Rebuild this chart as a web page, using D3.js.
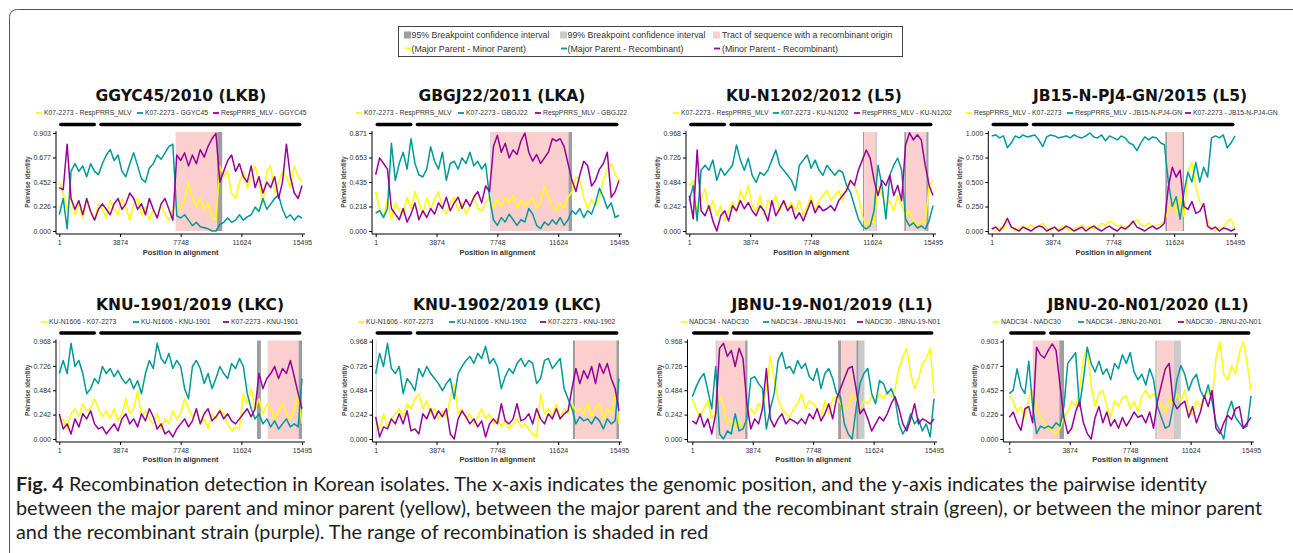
<!DOCTYPE html>
<html><head><meta charset="utf-8">
<script src="https://cdn.jsdelivr.net/npm/d3@7"></script>
<style>body{margin:0;background:#fff} svg{display:block}</style>
</head><body>
<svg id="c" width="1293" height="553"></svg>
<script>
// ---------- DATA ----------
const positions = [1,250,500,750,1000,1250,1500,1750,2000,2250,2500,2750,3000,3250,3500,3750,4000,4250,4500,4750,5000,5250,5500,5750,6000,6250,6500,6750,7000,7250,7500,7750,8000,8250,8500,8750,9000,9250,9500,9750,10000,10250,10500,10750,11000,11250,11500,11750,12000,12250,12500,12750,13000,13250,13500,13750,14000,14250,14500,14750,15000,15250,15495];

const p1Yellow = [0.45,0.35,0.2,0.3,0.15,0.25,0.12,0.28,0.18,0.1,0.25,0.2,0.12,0.28,0.2,0.15,0.3,0.22,0.1,0.25,0.3,0.15,0.22,0.1,0.2,0.12,0.25,0.15,0.1,0.2,0.25,0.2,0.3,0.45,0.3,0.22,0.3,0.2,0.25,0.12,0.1,0.6,0.5,0.55,0.35,0.3,0.45,0.55,0.4,0.5,0.6,0.45,0.25,0.55,0.6,0.35,0.45,0.55,0.5,0.4,0.6,0.5,0.45];
const p1Teal = [0.15,0.3,0.02,0.55,0.62,0.55,0.6,0.5,0.62,0.55,0.52,0.62,0.7,0.75,0.65,0.7,0.55,0.5,0.62,0.72,0.6,0.48,0.45,0.58,0.62,0.7,0.66,0.72,0.78,0.8,0.14,0.12,0.15,0.1,0.05,0.08,0.04,0.03,0.02,0.0,0.0,0.06,0.08,0.12,0.08,0.1,0.15,0.1,0.13,0.15,0.22,0.18,0.3,0.2,0.25,0.3,0.33,0.2,0.12,0.15,0.1,0.14,0.12];
const p1Purple = [0.4,0.38,0.8,0.3,0.2,0.28,0.15,0.3,0.18,0.1,0.2,0.25,0.2,0.15,0.25,0.3,0.2,0.25,0.35,0.3,0.2,0.25,0.15,0.3,0.2,0.12,0.25,0.3,0.2,0.1,0.7,0.65,0.72,0.6,0.7,0.62,0.75,0.68,0.78,0.85,0.9,0.45,0.55,0.65,0.7,0.55,0.62,0.5,0.45,0.6,0.4,0.5,0.35,0.45,0.4,0.5,0.3,0.45,0.8,0.5,0.35,0.3,0.42];

const p2Yellow = [0.35,0.2,0.12,0.28,0.1,0.25,0.18,0.15,0.3,0.2,0.35,0.25,0.15,0.3,0.2,0.28,0.35,0.2,0.15,0.25,0.3,0.18,0.25,0.15,0.22,0.3,0.2,0.18,0.25,0.3,0.2,0.28,0.22,0.3,0.25,0.32,0.2,0.28,0.22,0.25,0.3,0.2,0.25,0.4,0.3,0.22,0.18,0.25,0.2,0.3,0.35,0.48,0.45,0.3,0.2,0.28,0.22,0.3,0.45,0.55,0.6,0.5,0.45];
const p2Teal = [0.16,0.18,0.12,0.2,0.78,0.45,0.6,0.7,0.55,0.82,0.6,0.5,0.48,0.55,0.75,0.62,0.55,0.7,0.45,0.6,0.62,0.55,0.65,0.6,0.7,0.58,0.62,0.55,0.6,0.3,0.1,0.05,0.12,0.08,0.15,0.1,0.05,0.1,0.08,0.2,0.15,0.05,0.02,0.08,0.05,0.1,0.06,0.12,0.05,0.1,0.18,0.15,0.2,0.12,0.18,0.15,0.25,0.38,0.3,0.2,0.25,0.12,0.14];
const p2Purple = [0.5,0.65,0.6,0.55,0.2,0.15,0.1,0.2,0.08,0.15,0.25,0.1,0.18,0.12,0.2,0.15,0.25,0.2,0.3,0.18,0.25,0.3,0.2,0.28,0.22,0.3,0.35,0.25,0.4,0.35,0.75,0.85,0.7,0.78,0.65,0.72,0.68,0.8,0.87,0.7,0.62,0.68,0.6,0.65,0.7,0.82,0.8,0.82,0.75,0.6,0.45,0.35,0.5,0.62,0.58,0.4,0.45,0.55,0.6,0.7,0.3,0.35,0.45];

const p3Yellow = [0.45,0.5,0.15,0.3,0.42,0.2,0.3,0.15,0.25,0.1,0.2,0.28,0.18,0.4,0.3,0.45,0.25,0.2,0.35,0.15,0.3,0.25,0.35,0.2,0.3,0.22,0.28,0.2,0.3,0.15,0.25,0.35,0.2,0.3,0.35,0.4,0.3,0.35,0.4,0.3,0.45,0.5,0.45,0.35,0.15,0.05,0.1,0.08,0.45,0.35,0.25,0.3,0.2,0.35,0.25,0.15,0.2,0.08,0.05,0.1,0.08,0.45,0.5];
const p3Teal = [0.3,0.45,0.1,0.6,0.65,0.6,0.7,0.5,0.62,0.55,0.6,0.65,0.85,0.7,0.6,0.72,0.55,0.48,0.58,0.55,0.6,0.7,0.8,0.65,0.6,0.55,0.5,0.4,0.65,0.7,0.75,0.62,0.7,0.6,0.55,0.65,0.6,0.55,0.6,0.58,0.45,0.38,0.25,0.12,0.05,0.02,0.05,0.2,0.65,0.45,0.12,0.55,0.65,0.72,0.6,0.12,0.05,0.08,0.03,0.05,0.02,0.1,0.25];
const p3Purple = [0.35,0.12,0.8,0.2,0.15,0.25,0.1,0.0,0.15,0.2,0.1,0.25,0.2,0.3,0.22,0.28,0.2,0.15,0.25,0.2,0.1,0.3,0.15,0.22,0.3,0.2,0.25,0.12,0.18,0.1,0.2,0.3,0.18,0.25,0.2,0.22,0.25,0.2,0.3,0.35,0.4,0.5,0.45,0.6,0.7,0.8,0.72,0.5,0.35,0.5,0.45,0.55,0.35,0.45,0.3,0.85,0.97,0.9,0.95,0.9,0.65,0.45,0.35];

const p4Yellow = [0.03,0.0,0.04,0.02,0.1,0.05,0.0,0.03,0.05,0.02,0.06,0.03,0.05,0.08,0.03,0.0,0.04,0.02,0.05,0.03,0.0,0.02,0.04,0.06,0.03,0.05,0.02,0.04,0.08,0.06,0.1,0.08,0.05,0.06,0.04,0.05,0.08,0.12,0.06,0.05,0.08,0.05,0.06,0.07,0.1,0.22,0.3,0.18,0.35,0.15,0.6,0.7,0.45,0.3,0.25,0.1,0.03,0.0,0.04,0.02,0.1,0.12,0.02];
const p4Teal = [0.97,0.98,0.95,0.97,0.85,0.9,0.97,0.95,0.98,0.96,0.97,0.98,0.93,0.86,0.96,0.98,0.97,0.95,0.96,0.97,0.95,0.98,0.96,0.95,0.97,1.0,0.96,0.95,0.98,0.92,0.97,0.95,0.93,0.97,0.95,0.9,0.88,0.82,0.9,0.96,0.93,0.96,0.95,0.9,0.88,0.5,0.25,0.35,0.12,0.4,0.6,0.5,0.7,0.5,0.65,0.55,0.95,0.97,0.95,0.98,0.85,0.9,0.97];
const p4Purple = [0.02,0.04,0.0,0.05,0.13,0.04,0.02,0.0,0.04,0.02,0.0,0.03,0.05,0.04,0.0,0.02,0.04,0.0,0.02,0.05,0.03,0.0,0.02,0.04,0.0,0.03,0.05,0.02,0.0,0.03,0.05,0.02,0.0,0.04,0.02,0.05,0.1,0.04,0.02,0.0,0.03,0.05,0.02,0.04,0.08,0.45,0.65,0.55,0.62,0.25,0.22,0.3,0.18,0.2,0.28,0.05,0.02,0.04,0.0,0.03,0.02,0.0,0.02];

const p5Yellow = [0.15,0.2,0.1,0.25,0.3,0.22,0.35,0.28,0.3,0.4,0.3,0.22,0.28,0.2,0.3,0.18,0.25,0.4,0.25,0.3,0.48,0.22,0.28,0.2,0.15,0.25,0.1,0.2,0.15,0.28,0.2,0.25,0.4,0.3,0.22,0.28,0.15,0.2,0.1,0.25,0.2,0.3,0.25,0.15,0.08,0.12,0.1,0.45,0.35,0.5,0.3,0.4,0.25,0.35,0.3,0.2,0.28,0.35,0.25,0.2,0.3,0.45,0.15];
const p5Teal = [0.65,0.78,0.65,0.95,0.72,0.78,0.65,0.45,0.5,0.6,0.55,0.72,0.65,0.7,0.62,0.68,0.6,0.55,0.6,0.5,0.58,0.45,0.65,0.78,0.7,0.95,0.8,0.75,0.85,0.7,0.78,0.72,0.5,0.4,0.72,0.78,0.7,0.55,0.65,0.5,0.6,0.72,0.65,0.6,0.75,0.7,0.8,0.72,0.45,0.3,0.2,0.25,0.15,0.2,0.12,0.18,0.1,0.15,0.2,0.12,0.15,0.12,0.6];
const p5Purple = [0.25,0.1,0.15,0.05,0.2,0.12,0.25,0.2,0.28,0.15,0.1,0.12,0.05,0.1,0.15,0.08,0.2,0.25,0.15,0.2,0.12,0.25,0.18,0.3,0.22,0.1,0.15,0.05,0.08,0.02,0.1,0.15,0.2,0.12,0.18,0.3,0.15,0.25,0.3,0.18,0.22,0.28,0.2,0.25,0.18,0.15,0.2,0.25,0.3,0.22,0.3,0.65,0.5,0.6,0.65,0.72,0.6,0.7,0.65,0.78,0.62,0.45,0.3];

const p6Yellow = [0.15,0.1,0.25,0.12,0.2,0.25,0.3,0.22,0.35,0.3,0.4,0.45,0.3,0.38,0.25,0.3,0.2,0.28,0.22,0.4,0.55,0.25,0.3,0.2,0.25,0.15,0.22,0.3,0.2,0.25,0.15,0.2,0.12,0.18,0.1,0.15,0.2,0.12,0.15,0.1,0.05,0.02,0.45,0.25,0.3,0.22,0.35,0.2,0.3,0.25,0.35,0.28,0.3,0.25,0.35,0.22,0.3,0.35,0.2,0.3,0.25,0.45,0.15];
const p6Teal = [0.65,0.85,0.72,0.95,0.7,0.65,0.72,0.45,0.6,0.55,0.48,0.7,0.62,0.72,0.65,0.6,0.55,0.48,0.55,0.6,0.4,0.65,0.72,0.78,0.82,0.75,0.85,0.8,0.92,0.75,0.8,0.72,0.5,0.62,0.7,0.65,0.75,0.8,0.72,0.78,0.75,0.55,0.6,0.78,0.8,0.7,0.75,0.8,0.5,0.4,0.3,0.15,0.22,0.18,0.2,0.15,0.22,0.18,0.1,0.2,0.15,0.18,0.6];
const p6Purple = [0.22,0.02,0.12,0.1,0.2,0.15,0.25,0.15,0.28,0.08,0.1,0.05,0.25,0.2,0.3,0.2,0.28,0.22,0.3,0.05,0.0,0.2,0.28,0.22,0.15,0.2,0.12,0.18,0.02,0.15,0.2,0.15,0.35,0.18,0.15,0.2,0.35,0.18,0.2,0.25,0.15,0.3,0.2,0.15,0.25,0.2,0.3,0.2,0.25,0.28,0.5,0.7,0.55,0.68,0.6,0.72,0.55,0.75,0.65,0.75,0.6,0.5,0.28];

const p7Yellow = [0.4,0.3,0.22,0.3,0.38,0.2,0.28,0.42,0.35,0.15,0.18,0.12,0.18,0.1,0.2,0.3,0.25,0.35,0.3,0.5,0.82,0.6,0.4,0.3,0.25,0.22,0.3,0.35,0.45,0.3,0.38,0.35,0.3,0.22,0.38,0.25,0.4,0.42,0.35,0.3,0.32,0.45,0.4,0.3,0.38,0.35,0.42,0.38,0.45,0.4,0.48,0.42,0.5,0.7,0.82,0.9,0.65,0.5,0.6,0.75,0.8,0.9,0.45];
const p7Teal = [0.42,0.52,0.6,0.65,0.48,0.3,0.72,0.05,0.0,0.08,0.05,0.25,0.08,0.1,0.2,0.6,0.62,0.55,0.5,0.1,0.3,0.45,0.78,0.86,0.7,0.72,0.65,0.78,0.7,0.75,0.62,0.58,0.7,0.5,0.65,0.7,0.6,0.45,0.42,0.15,0.05,0.0,0.3,0.55,0.65,0.7,0.45,0.35,0.58,0.55,0.45,0.5,0.4,0.15,0.05,0.12,0.25,0.15,0.2,0.08,0.15,0.02,0.4];
const p7Purple = [0.18,0.15,0.25,0.12,0.2,0.05,0.25,0.9,0.95,0.82,0.88,0.72,0.9,0.8,0.35,0.1,0.2,0.15,0.3,0.7,0.2,0.12,0.2,0.25,0.15,0.2,0.18,0.15,0.2,0.15,0.25,0.2,0.3,0.18,0.25,0.35,0.2,0.4,0.5,0.6,0.7,0.72,0.5,0.25,0.3,0.2,0.08,0.15,0.22,0.18,0.25,0.35,0.42,0.3,0.15,0.08,0.2,0.35,0.15,0.2,0.18,0.15,0.2];

const p8Yellow = [0.4,0.35,0.25,0.3,0.2,0.38,0.45,0.3,0.2,0.15,0.1,0.08,0.05,0.1,0.2,0.25,0.35,0.3,0.45,0.75,0.85,0.5,0.3,0.42,0.45,0.3,0.2,0.35,0.3,0.38,0.4,0.28,0.35,0.25,0.4,0.45,0.38,0.42,0.4,0.3,0.25,0.38,0.3,0.42,0.35,0.45,0.28,0.22,0.35,0.3,0.4,0.45,0.35,0.75,0.9,0.6,0.55,0.68,0.6,0.8,0.9,0.7,0.45];
const p8Teal = [0.42,0.45,0.65,0.48,0.42,0.72,0.3,0.05,0.12,0.1,0.12,0.1,0.15,0.12,0.3,0.7,0.75,0.8,0.3,0.55,0.85,0.7,0.62,0.72,0.6,0.65,0.55,0.7,0.65,0.78,0.7,0.8,0.62,0.55,0.6,0.5,0.65,0.55,0.3,0.2,0.1,0.12,0.3,0.55,0.68,0.6,0.45,0.55,0.6,0.45,0.38,0.5,0.35,0.15,0.08,0.0,0.25,0.35,0.2,0.15,0.1,0.12,0.4];
const p8Purple = [0.2,0.25,0.15,0.08,0.28,0.3,0.15,0.85,0.78,0.75,0.82,0.88,0.82,0.5,0.2,0.05,0.1,0.25,0.35,0.15,0.05,0.0,0.2,0.3,0.15,0.25,0.12,0.18,0.1,0.2,0.12,0.18,0.25,0.2,0.22,0.15,0.25,0.1,0.35,0.5,0.65,0.7,0.35,0.28,0.32,0.35,0.2,0.3,0.15,0.25,0.4,0.3,0.45,0.1,0.05,0.15,0.22,0.18,0.28,0.3,0.1,0.15,0.2];

const panelTitles = ["GGYC45/2010 (LKB)","GBGJ22/2011 (LKA)","KU-N1202/2012 (L5)","JB15-N-PJ4-GN/2015 (L5)","KNU-1901/2019 (LKC)","KNU-1902/2019 (LKC)","JBNU-19-N01/2019 (L1)","JBNU-20-N01/2020 (L1)"];
const panelLegends = [
  ["K07-2273 - RespPRRS_MLV","K07-2273 - GGYC45","RespPRRS_MLV - GGYC45"],
  ["K07-2273 - RespPRRS_MLV","K07-2273 - GBGJ22","RespPRRS_MLV - GBGJ22"],
  ["K07-2273 - RespPRRS_MLV","K07-2273 - KU-N1202","RespPRRS_MLV - KU-N1202"],
  ["RespPRRS_MLV - K07-2273","RespPRRS_MLV - JB15-N-PJ4-GN","K07-2273 - JB15-N-PJ4-GN"],
  ["KU-N1606 - K07-2273","KU-N1606 - KNU-1901","K07-2273 - KNU-1901"],
  ["KU-N1606 - K07-2273","KU-N1606 - KNU-1902","K07-2273 - KNU-1902"],
  ["NADC34 - NADC30","NADC34 - JBNU-19-N01","NADC30 - JBNU-19-N01"],
  ["NADC34 - NADC30","NADC34 - JBNU-20-N01","NADC30 - JBNU-20-N01"]
];
const yMaxes = [0.903,0.871,0.968,1.0,0.968,0.968,0.968,0.903];
const yTickLabels = [
  ["0.000","0.226","0.452","0.677","0.903"],
  ["0.000","0.218","0.435","0.653","0.871"],
  ["0.000","0.242","0.484","0.726","0.968"],
  ["0.000","0.250","0.500","0.750","1.000"],
  ["0.000","0.242","0.484","0.726","0.968"],
  ["0.000","0.242","0.484","0.726","0.968"],
  ["0.000","0.242","0.484","0.726","0.968"],
  ["0.000","0.226","0.452","0.677","0.903"]
];
const xTicks = [1,3874,7748,11624,15495];
const orfBars = [[1,2330],[2560,15450]];
// [start, end, kind]  kind: 95 = 95% CI, 99 = 99% CI, tract = recombinant tract
const regions = [
  [[7430,10080,"tract"],[10080,10400,"95"]],
  [[7300,7360,"99"],[7360,12280,"tract"],[12280,12500,"95"]],
  [[11040,11120,"95"],[11120,11820,"tract"],[11820,11930,"99"],[13670,13800,"95"],[13800,15070,"tract"],[15070,15210,"95"]],
  [[11060,11180,"95"],[11180,12160,"tract"],[12160,12250,"95"]],
  [[1,60,"99"],[12620,12870,"95"],[13300,15280,"tract"],[15280,15495,"95"]],
  [[1,60,"99"],[12560,12710,"95"],[12710,15330,"tract"],[15330,15495,"95"]],
  [[1500,1630,"99"],[1630,3390,"tract"],[3390,3540,"95"],[9350,9540,"95"],[9540,10520,"tract"],[10520,10670,"95"],[10670,11040,"99"]],
  [[1500,3210,"tract"],[3210,3510,"95"],[9350,9500,"99"],[9500,10530,"tract"],[10530,11000,"99"]]
];
const topLegendLabels = ["95% Breakpoint confidence interval","99% Breakpoint confidence interval","Tract of sequence with a recombinant origin","(Major Parent - Minor Parent)","(Major Parent - Recombinant)","(Minor Parent - Recombinant)"];
const captionBold = "Fig. 4";
const captionLines = [
  "Recombination detection in Korean isolates. The x-axis indicates the genomic position, and the y-axis indicates the pairwise identity",
  "between the major parent and minor parent (yellow), between the major parent and the recombinant strain (green), or between the minor parent",
  "and the recombinant strain (purple). The range of recombination is shaded in red"
];

const series = [
  [p1Yellow,p1Teal,p1Purple],[p2Yellow,p2Teal,p2Purple],[p3Yellow,p3Teal,p3Purple],[p4Yellow,p4Teal,p4Purple],
  [p5Yellow,p5Teal,p5Purple],[p6Yellow,p6Teal,p6Purple],[p7Yellow,p7Teal,p7Purple],[p8Yellow,p8Teal,p8Purple]
];

// ---------- STYLE / LAYOUT ----------
const lineColors = ["#ffff00","#009999","#990099"];
const regionColors = {"95":"#9e9e9e","99":"#cacaca","tract":"#fccfcf"};
const rows = [
  {title:101, legend:113, bar:124.5, yT:133, yB:231, xAxis:234, tickLab:245, xTitle:254.5},
  {title:309.5, legend:322, bar:333, yT:341.5, yB:439, xAxis:442, tickLab:452.5, xTitle:462}
];
const layout = [
  {row:0, ax:56, x0:59.3, x1:302, tx:181, lx:[36,137,213]},
  {row:0, ax:372, x0:375.7, x1:619, tx:502, lx:[356,458,535]},
  {row:0, ax:686, x0:689.3, x1:933, tx:814, lx:[673,773,854]},
  {row:0, ax:988.3, x0:991.7, x1:1235, tx:1140, lx:[966,1067,1185]},
  {row:1, ax:56, x0:59.3, x1:302, tx:190, lx:[41,133,223]},
  {row:1, ax:372.5, x0:375.7, x1:619, tx:507, lx:[358,449,540]},
  {row:1, ax:687.5, x0:692.3, x1:934, tx:832, lx:[681,763,857]},
  {row:1, ax:1003.3, x0:1009.3, x1:1251, tx:1148, lx:[993,1078,1178]}
];

const svg = d3.select("#c");
const defs = svg.append("defs");

// frame
svg.append("path").attr("d","M9.5,553V17.5Q9.5,9.5 17.5,9.5H1293")
  .attr("fill","none").attr("stroke","#555").attr("stroke-width",1);

// top legend
const tl = svg.append("g").attr("font-family","'Liberation Sans',Arial,sans-serif").attr("font-size",8.8).attr("fill","#333");
tl.append("rect").attr("x",398.5).attr("y",26.5).attr("width",504).attr("height",30).attr("fill","none").attr("stroke","#444");
const sqX = [404,560,713], txX = [411.5,567.5,722];
["95","99","tract"].forEach((k,i)=>{
  tl.append("rect").attr("x",sqX[i]).attr("y",31.5).attr("width",7).attr("height",7).attr("fill",regionColors[k]);
  tl.append("text").attr("x",txX[i]).attr("y",38.3).text(topLegendLabels[i]);
});
lineColors.forEach((c,i)=>{
  tl.append("line").attr("x1",sqX[i]+1).attr("x2",sqX[i]+7).attr("y1",48.5).attr("y2",48.5).attr("stroke",c).attr("stroke-width",1.8);
  tl.append("text").attr("x",txX[i]).attr("y",51.6).text(topLegendLabels[i+3]);
});

function drawPanel(i){
  const L = layout[i], R = rows[L.row];
  const g = svg.append("g");
  const ymax = yMaxes[i];
  const x = d3.scaleLinear().domain([1,15495]).range([L.x0,L.x1]);
  const y = d3.scaleLinear().domain([0,ymax]).range([R.yB,R.yT]);

  // title
  g.append("text").attr("x",L.tx).attr("y",R.title).attr("text-anchor","middle")
    .attr("font-family","'DejaVu Sans',Verdana,sans-serif").attr("font-weight","bold")
    .attr("font-size",15.5).attr("fill","#111").text(panelTitles[i]);

  // series legend
  panelLegends[i].forEach((lab,k)=>{
    g.append("line").attr("x1",L.lx[k]).attr("x2",L.lx[k]+6).attr("y1",R.legend).attr("y2",R.legend)
      .attr("stroke",lineColors[k]).attr("stroke-width",1.8);
    g.append("text").attr("x",L.lx[k]+8).attr("y",R.legend+2.4)
      .attr("font-family","'Liberation Sans',Arial,sans-serif").attr("font-size",6.8).attr("fill","#333").text(lab);
  });

  // ORF bars
  orfBars.forEach(b=>{
    g.append("line").attr("x1",x(b[0])+1.5).attr("x2",x(b[1])-1.5).attr("y1",R.bar).attr("y2",R.bar)
      .attr("stroke","#000").attr("stroke-width",3.4).attr("stroke-linecap","round");
  });

  // shaded regions
  regions[i].forEach(r=>{
    g.append("rect").attr("x",x(r[0])).attr("width",Math.max(0.8,x(r[1])-x(r[0])))
      .attr("y",y(ymax)-1).attr("height",y(0)-y(ymax)+1).attr("fill",regionColors[r[2]]);
  });

  // lines
  const cid = "clip"+i;
  defs.append("clipPath").attr("id",cid).append("rect")
    .attr("x",L.x0-2).attr("y",y(ymax)-2).attr("width",L.x1-L.x0+4).attr("height",y(0)-y(ymax)+4);
  const line = d3.line().x((d,k)=>x(positions[k])).y(d=>y(d));
  const lg = g.append("g").attr("clip-path",`url(#${cid})`);
  series[i].forEach((s,k)=>{
    lg.append("path").attr("d",line(s)).attr("fill","none").attr("stroke",lineColors[k])
      .attr("stroke-width",1.5).attr("stroke-linejoin","round");
  });

  // axes
  const yTickVals = [0,ymax/4,ymax/2,ymax*3/4,ymax];
  const yAxis = d3.axisLeft(y).tickValues(yTickVals).tickSize(3).tickSizeOuter(0).tickPadding(2)
    .tickFormat((d,k)=>yTickLabels[i][k]);
  const ya = g.append("g").attr("transform",`translate(${L.ax},0)`).call(yAxis);
  ya.select(".domain").remove();
  const xAxis = d3.axisBottom(x).tickValues(xTicks).tickSize(3).tickSizeOuter(0).tickPadding(2)
    .tickFormat(d3.format("d"));
  const xa = g.append("g").attr("transform",`translate(0,${R.xAxis})`).call(xAxis);
  xa.select(".domain").remove();
  [ya,xa].forEach(a=>{
    a.selectAll("text").attr("font-family","'Liberation Sans',Arial,sans-serif").attr("font-size",7).attr("fill","#333");
    a.selectAll(".tick line").attr("stroke","#000");
  });
  xa.selectAll("text").attr("dy",null).attr("y",R.tickLab-R.xAxis);
  g.append("line").attr("x1",L.ax).attr("x2",L.ax).attr("y1",y(ymax)-2).attr("y2",R.xAxis)
    .attr("stroke","#000").attr("stroke-width",1);
  g.append("line").attr("x1",L.ax).attr("x2",x(15495)+3).attr("y1",R.xAxis).attr("y2",R.xAxis)
    .attr("stroke","#000").attr("stroke-width",1);

  // axis titles
  g.append("text").attr("x",(L.x0+L.x1)/2).attr("y",R.xTitle).attr("text-anchor","middle")
    .attr("font-family","'Liberation Sans',Arial,sans-serif").attr("font-weight","bold").attr("font-size",7.5)
    .attr("fill","#333").text("Position in alignment");
  g.append("text").attr("transform",`translate(${L.ax-26},${(R.yT+R.yB)/2}) rotate(-90)`)
    .attr("text-anchor","middle").attr("font-family","'Liberation Sans',Arial,sans-serif")
    .attr("font-weight","bold").attr("font-size",6.5).attr("fill","#444").text("Pairwise identity");
}
for(let i=0;i<8;i++) drawPanel(i);

// caption
const cap = svg.append("g").attr("font-family","Lato,'Open Sans',sans-serif").attr("fill","#231f20");
const capY = [490.5,514.5,538.5];
const fb = cap.append("text").attr("x",16).attr("y",capY[0]).attr("font-size",18).attr("font-weight","bold").text(captionBold);
const t1 = cap.append("text").attr("x",69).attr("y",capY[0]).attr("font-size",18).text(captionLines[0]);
const t2 = cap.append("text").attr("x",16).attr("y",capY[1]).attr("font-size",18).text(captionLines[1]);
const t3 = cap.append("text").attr("x",16).attr("y",capY[2]).attr("font-size",18).text(captionLines[2]);
// fit font size so the second line spans like the original
const w2 = t2.node().getComputedTextLength();
const fs = 18*1247/w2;
[fb,t1,t2,t3].forEach(t=>t.attr("font-size",fs));
</script>
</body></html>
